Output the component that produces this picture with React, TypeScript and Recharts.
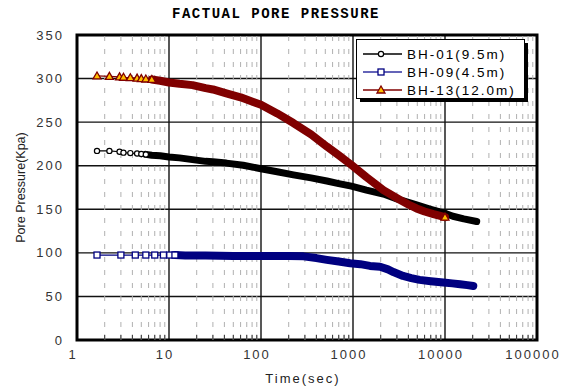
import {
  LineChart,
  Line,
  XAxis,
  YAxis,
  CartesianGrid,
  ReferenceLine,
  ReferenceArea,
  Legend,
} from 'recharts';

const xTicks = [1, 10, 100, 1000, 10000, 100000];
const yTicks = [0, 50, 100, 150, 200, 250, 300, 350];

// BH-01 (9.5m)
const bh01Time = [1.65, 2.25, 2.9, 3.2, 3.8, 4.5, 5, 5.6, 6.5, 8, 10, 13, 18, 25, 30, 42, 64, 100, 150, 225, 350, 520, 700, 960, 1400, 2140, 3000, 4000, 4900, 7000, 10300, 12200, 16000, 22100];
const bh01Pressure = [217, 217, 216, 215, 214.5, 214, 213.5, 213, 212, 211.5, 210, 209, 207, 205, 204.5, 203, 200.5, 196.5, 193, 189.5, 186, 182.5, 179.5, 176.5, 172, 167.5, 162, 158, 155, 150, 145, 142, 139, 136];

// BH-09 (4.5m)
const bh09Time = [1.65, 3, 4.3, 5.6, 7, 8.7, 10.2, 11.6, 15, 25, 50, 100, 200, 290, 400, 520, 700, 930, 1200, 1530, 1970, 2400, 2750, 3500, 4300, 5300, 7000, 9600, 12000, 14600, 17500, 20300];
const bh09Pressure = [97.5, 97.5, 97.5, 97.5, 97.5, 97.5, 97.5, 97.5, 97, 97, 96.5, 96.5, 96.5, 96, 94, 92, 90, 88, 87, 85, 84, 81, 78, 73.5, 71, 69, 67.5, 66, 65, 64, 63, 62];

// BH-13 (12.0m)
const bh13Time = [1.65, 2.25, 2.9, 3.2, 3.8, 4.5, 5, 5.6, 6.5, 8, 10, 13, 18, 25, 30, 42, 60, 100, 150, 225, 350, 520, 700, 960, 1400, 2140, 3220, 4000, 4900, 6000, 7500, 10000];
const bh13Pressure = [303, 302.5, 302, 301.5, 301, 300.5, 300, 299.5, 299, 297.5, 295.5, 294, 292.5, 289, 287.5, 283, 278.5, 270, 260, 249, 236, 222, 212, 201, 187, 172, 161, 155.5, 151, 147.5, 144.5, 141];

const toPoints = (time: number[], values: number[]) => time.map((t, i) => ({ t, v: values[i] }));

const bh01 = toPoints(bh01Time, bh01Pressure);
const bh09 = toPoints(bh09Time, bh09Pressure);
const bh13 = toPoints(bh13Time, bh13Pressure);

// past these times the logged points are so dense they merge into a thick band
const bh01Dense = bh01.filter((p) => p.t >= 5.6);
const bh09Dense = bh09.filter((p) => p.t >= 11.6);
const bh13Dense = bh13.filter((p) => p.t >= 6.5);

const minorTicks: number[] = [];
for (let d = 1; d < 100000; d *= 10) {
  for (let m = 2; m <= 9; m++) minorTicks.push(d * m);
}

const BLACK = '#000000';
const NAVY = '#000080';
const MAROON = '#800000';
const TRI_FILL = '#ffc000';

const tickFont = { fontFamily: 'Liberation Sans', fontSize: 13, fill: '#333', letterSpacing: 2 };

const circleMark = (x: number, y: number, key?: any) => (
  <circle key={key} cx={x} cy={y} r={2.6} fill="#fff" stroke={BLACK} strokeWidth={1.2} />
);
const squareMark = (x: number, y: number, key?: any) => (
  <rect key={key} x={x - 3} y={y - 3} width={6} height={6} fill="#fff" stroke={NAVY} strokeWidth={1.3} />
);
const triangleMark = (x: number, y: number, key?: any) => (
  <path key={key} d={`M${x},${y - 4}L${x + 4},${y + 3}L${x - 4},${y + 3}Z`} fill={TRI_FILL} stroke={MAROON} strokeWidth={1.3} />
);

const makeDot = (limit: number, mark: any, last = -1) => (props: any) => {
  const { cx, cy, payload, index } = props;
  if (payload.t > limit && index !== last) return <g key={index} />;
  return mark(cx, cy, index);
};

const legendItems = [
  { name: 'BH-01(9.5m)', color: BLACK, mark: circleMark },
  { name: 'BH-09(4.5m)', color: '#3030a0', mark: squareMark },
  { name: 'BH-13(12.0m)', color: MAROON, mark: triangleMark },
];

const renderLegend = () => (
  <svg width={176} height={66} style={{ display: 'block' }}>
    <rect x={4} y={4} width={168} height={59} fill="#000" />
    <rect x={0.5} y={0.5} width={168} height={59} fill="#fff" stroke="#000" />
    {legendItems.map((it, i) => {
      const y = 15 + i * 18;
      return (
        <g key={it.name}>
          <line x1={7} x2={46} y1={y} y2={y} stroke={it.color} strokeWidth={1.3} />
          {it.mark(25, y)}
          <text x={51} y={y + 5} fontFamily="Liberation Sans" fontSize={13.5} letterSpacing={2} fill="#000">
            {it.name}
          </text>
        </g>
      );
    })}
  </svg>
);

const App = () => {
  return (
    <div style={{ position: 'absolute', left: 0, top: 0, width: 567, height: 389, background: '#fff' }}>
      <div
        style={{
          position: 'absolute',
          left: 0,
          top: 6,
          width: 552,
          textAlign: 'center',
          fontFamily: 'Liberation Mono',
          fontWeight: 'bold',
          fontSize: 14,
          letterSpacing: 1.5,
          color: '#000',
        }}
      >
        FACTUAL PORE PRESSURE
      </div>
      <LineChart width={567} height={389} margin={{ top: 35, right: 30, left: 0, bottom: 0 }}>
        <CartesianGrid stroke="#111" strokeWidth={1.4} />
        {minorTicks.map((m) => (
          <ReferenceLine key={`g${m}`} x={m} stroke="#b0b0b0" strokeWidth={1} strokeDasharray="5 8" />
        ))}
        {minorTicks.map((m) => (
          <ReferenceLine key={`t${m}`} segment={[{ x: m, y: 0 }, { x: m, y: 6 }]} stroke="#333" strokeWidth={1} />
        ))}
        <XAxis
          type="number"
          dataKey="t"
          scale="log"
          domain={[1, 100000]}
          ticks={xTicks}
          allowDataOverflow
          axisLine={false}
          tickLine={false}
          tickSize={0}
          tickMargin={10}
          height={49}
          tick={{ ...tickFont, dx: -4 }}
          label={{
            value: 'Time(sec)',
            position: 'insideBottom',
            offset: 6,
            dx: -4,
            style: { fontFamily: 'Liberation Sans', fontSize: 13, fill: '#222', letterSpacing: 2 },
          }}
        />
        <YAxis
          type="number"
          domain={[0, 350]}
          ticks={yTicks}
          allowDataOverflow
          axisLine={false}
          tickLine={false}
          tickSize={0}
          tickMargin={13}
          width={77}
          tick={tickFont}
          label={{
            value: 'Pore Pressure(Kpa)',
            angle: -90,
            position: 'center',
            dx: -18,
            style: { fontFamily: 'Liberation Sans', fontSize: 12.5, fill: '#222', textAnchor: 'middle' },
          }}
        />
        <ReferenceArea x1={1} x2={100000} y1={0} y2={350} fill="none" stroke="#000" strokeWidth={3} ifOverflow="visible" />
        <Line data={bh01Dense} dataKey="v" stroke={BLACK} strokeWidth={7} strokeLinecap="round" strokeLinejoin="round" dot={false} isAnimationActive={false} legendType="none" />
        <Line data={bh01} dataKey="v" name="BH-01(9.5m)" stroke={BLACK} strokeWidth={1.2} dot={makeDot(5.6, circleMark)} isAnimationActive={false} />
        <Line data={bh09Dense} dataKey="v" stroke={NAVY} strokeWidth={8} strokeLinecap="round" strokeLinejoin="round" dot={false} isAnimationActive={false} legendType="none" />
        <Line data={bh09} dataKey="v" name="BH-09(4.5m)" stroke={NAVY} strokeWidth={1.2} dot={makeDot(11.6, squareMark)} isAnimationActive={false} />
        <Line data={bh13Dense} dataKey="v" stroke={MAROON} strokeWidth={8} strokeLinecap="round" strokeLinejoin="round" dot={false} isAnimationActive={false} legendType="none" />
        <Line data={bh13} dataKey="v" name="BH-13(12.0m)" stroke={MAROON} strokeWidth={1.2} dot={makeDot(6.5, triangleMark, bh13.length - 1)} isAnimationActive={false} />
        <Legend
          content={renderLegend}
          layout="vertical"
          align="center"
          verticalAlign="middle"
          wrapperStyle={{ position: 'absolute', left: 356, top: 39, width: 176, height: 66 }}
        />
      </LineChart>
    </div>
  );
};

export default App;
